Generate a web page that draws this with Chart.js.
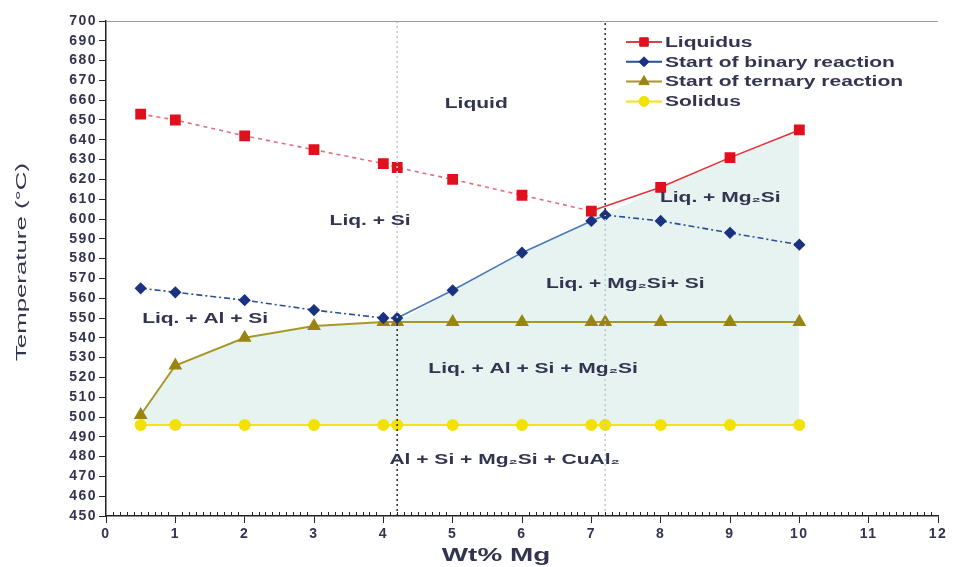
<!DOCTYPE html>
<html>
<head>
<meta charset="utf-8">
<script src="https://cdn.jsdelivr.net/npm/chart.js@4.4.1/dist/chart.umd.min.js"></script>
<style>
  html, body { margin: 0; background: #fff; }
</style>
</head>
<body>
<canvas id="phaseChart" width="955" height="567"></canvas>
<script>
/* global Chart */

// composition points (Wt% Mg)
const mgPoints = [0.5, 1, 2, 3, 4, 4.2, 5, 6, 7, 7.2, 8, 9, 10]
const liquidusX = [0.5, 1, 2, 3, 4, 4.2, 5, 6, 7, 8, 9, 10]

// temperatures (°C)
const liquidus = [653, 650, 642, 635, 628, 626, 620, 612, 604, 616, 631, 645]
const binaryStart = [565, 563, 559, 554, 550, 550, 564, 583, 599, 602, 599, 593, 587]
const ternaryStart = [501, 526, 540, 546, 548, 548, 548, 548, 548, 548, 548, 548, 548]
const solidus = [496, 496, 496, 496, 496, 496, 496, 496, 496, 496, 496, 496, 496]

// the two dotted composition lines
const boundaries = [4.2, 7.2]

const seriesNames = ['Liquidus', 'Start of binary reaction', 'Start of ternary reaction', 'Solidus']

const regionLabels = [
  { text: 'Liquid', x: 5.34, y: 658 },
  { text: 'Liq. + Si', x: 3.81, y: 599 },
  { text: 'Liq. + Mg₂Si', x: 8.86, y: 610.5 },
  { text: 'Liq. + Mg₂Si+ Si', x: 7.49, y: 567 },
  { text: 'Liq. + Al + Si', x: 1.43, y: 549.5 },
  { text: 'Liq. + Al + Si + Mg₂Si', x: 6.16, y: 524 },
  { text: 'Al + Si + Mg₂Si + CuAl₂', x: 5.75, y: 478 }
]

const toXY = (xs, ys) => xs.map((x, i) => ({ x, y: ys[i] }))

// upper edge of the shaded field: ternary, then binary, then liquidus
const shadeTop = mgPoints.map((x, i) => {
  if (x <= boundaries[0]) return { x, y: ternaryStart[i] }
  if (x <= boundaries[1]) return { x, y: binaryStart[i] }
  return { x, y: liquidus[liquidusX.indexOf(x)] }
})

const legendStyles = [
  { line: '#d8404c', marker: '#e0101c', style: 'rect', r: 6 },
  { line: '#2a4f95', marker: '#1a3280', style: 'rectRot', r: 5 },
  { line: '#a8982a', marker: '#9a8412', style: 'triangle', r: 6 },
  { line: '#f0e41a', marker: '#f2e200', style: 'circle', r: 5 }
]

const textColor = '#33344f'
const fontFamily = '"Liberation Sans", Arial, sans-serif'

function vline (x, y0, y1, color) {
  return {
    label: '',
    data: [{ x, y: y0 }, { x, y: y1 }],
    borderColor: color,
    borderWidth: 1.5,
    borderDash: [2, 3],
    pointRadius: 0,
    fill: false,
    order: 0
  }
}

// the original's lettering is stretched sideways
function wideText (ctx, text, x, y, stretch, align) {
  ctx.save()
  ctx.translate(x, y)
  ctx.scale(stretch, 1)
  ctx.textAlign = align || 'center'
  ctx.fillText(text, 0, 0)
  ctx.restore()
}

const decorPlugin = {
  id: 'decor',
  beforeDraw (chart) {
    chart.ctx.letterSpacing = '1.5px'
  },
  afterDraw (chart) {
    const { ctx, chartArea, scales } = chart
    const xs = scales.x
    const ys = scales.y
    ctx.save()
    ctx.letterSpacing = '0px'

    // top frame line
    ctx.strokeStyle = '#9a9a9a'
    ctx.lineWidth = 1
    ctx.beginPath()
    ctx.moveTo(chartArea.left, chartArea.top + 0.5)
    ctx.lineTo(chartArea.right, chartArea.top + 0.5)
    ctx.stroke()

    // minor ticks on x axis
    ctx.strokeStyle = '#222'
    ctx.beginPath()
    for (let i = 1; i < 120; i++) {
      if (i % 10 === 0) continue
      const px = Math.round(xs.getPixelForValue(i / 10)) + 0.5
      ctx.moveTo(px, chartArea.bottom)
      ctx.lineTo(px, chartArea.bottom - 4)
    }
    ctx.stroke()

    // region labels
    ctx.fillStyle = textColor
    ctx.font = `bold 14px ${fontFamily}`
    ctx.textBaseline = 'middle'
    regionLabels.forEach((lab) => {
      wideText(ctx, lab.text, xs.getPixelForValue(lab.x), ys.getPixelForValue(lab.y), 1.5)
    })

    // legend
    ctx.font = `bold 14px ${fontFamily}`
    seriesNames.forEach((name, i) => {
      const st = legendStyles[i]
      const y = 42 + i * 19.8
      ctx.strokeStyle = st.line
      ctx.lineWidth = 2
      ctx.beginPath()
      ctx.moveTo(626, y)
      ctx.lineTo(662, y)
      ctx.stroke()
      ctx.fillStyle = st.marker
      ctx.strokeStyle = st.marker
      ctx.lineWidth = 1
      Chart.helpers.drawPoint(ctx, { pointStyle: st.style, radius: st.r, borderWidth: 1 }, 644, y)
      ctx.fillStyle = textColor
      wideText(ctx, name, 665, y + 1, 1.5, 'left')
    })

    // x axis title
    ctx.font = `bold 18px ${fontFamily}`
    wideText(ctx, 'Wt% Mg', 496, 556, 1.55)

    // y axis title
    ctx.save()
    ctx.translate(22, 262)
    ctx.rotate(-Math.PI / 2)
    ctx.font = `15px ${fontFamily}`
    wideText(ctx, 'Temperature (°C)', 0, 0, 1.72)
    ctx.restore()

    ctx.restore()
  }
}

const ctxChart = document.getElementById('phaseChart').getContext('2d')

new Chart(ctxChart, {
  type: 'line',
  data: {
    datasets: [
      {
        label: '',
        data: shadeTop,
        borderWidth: 0,
        borderColor: 'rgba(0,0,0,0)',
        pointRadius: 0,
        backgroundColor: '#e6f3f1',
        fill: { target: 1 },
        order: 10
      },
      {
        label: seriesNames[3],
        data: toXY(mgPoints, solidus),
        borderColor: '#f0e41a',
        borderWidth: 2,
        pointStyle: 'circle',
        pointRadius: 5,
        pointBackgroundColor: '#f2e200',
        pointBorderColor: '#f2e200',
        fill: false,
        order: 4
      },
      {
        label: seriesNames[2],
        data: toXY(mgPoints, ternaryStart),
        borderColor: '#a8982a',
        borderWidth: 2,
        pointStyle: 'triangle',
        pointRadius: 6,
        pointBackgroundColor: '#9a8412',
        pointBorderColor: '#9a8412',
        fill: false,
        order: 3
      },
      {
        label: seriesNames[1],
        data: toXY(mgPoints, binaryStart),
        borderColor: '#2a4f95',
        borderWidth: 1.6,
        segment: {
          borderDash: (c) => (c.p0.parsed.x < boundaries[0] - 0.01 || c.p0.parsed.x >= boundaries[1] - 0.01) ? [6, 3, 2, 3] : undefined,
          borderColor: (c) => (c.p0.parsed.x < boundaries[0] - 0.01 || c.p0.parsed.x >= boundaries[1] - 0.01) ? '#2a4f95' : '#4a78bd'
        },
        pointStyle: 'rectRot',
        pointRadius: 5,
        pointBackgroundColor: '#1a3280',
        pointBorderColor: '#1a3280',
        fill: false,
        order: 2
      },
      {
        label: seriesNames[0],
        data: toXY(liquidusX, liquidus),
        borderColor: '#e8202c',
        borderWidth: 1.6,
        segment: {
          borderDash: (c) => c.p0.parsed.x < 7 ? [4, 4] : undefined,
          borderColor: (c) => c.p0.parsed.x < 7 ? '#e0707c' : '#e8303c'
        },
        pointStyle: 'rect',
        pointRadius: 6.5,
        pointBackgroundColor: '#e0101c',
        pointBorderColor: '#e0101c',
        fill: false,
        order: 1
      },
      vline(boundaries[0], 450, 550, '#2a2a2a'),
      vline(boundaries[0], 550, 700, '#b9c9d2'),
      vline(boundaries[1], 450, 602, '#b9c9d2'),
      vline(boundaries[1], 602, 700, '#2a2a2a')
    ]
  },
  options: {
    responsive: false,
    animation: false,
    devicePixelRatio: 1,
    layout: { padding: { top: 21, right: 17, left: 0, bottom: 0 } },
    plugins: {
      legend: { display: false },
      tooltip: { enabled: false }
    },
    elements: { line: { tension: 0 } },
    scales: {
      x: {
        type: 'linear',
        min: 0,
        max: 12,
        ticks: {
          stepSize: 1,
          color: textColor,
          padding: 3,
          font: { family: fontFamily, size: 14, weight: 'bold' }
        },
        grid: { drawOnChartArea: false, tickLength: 7, color: '#222' },
        border: { color: '#222', width: 1.5 },
        afterFit (scale) { scale.height = 51 }
      },
      y: {
        min: 450,
        max: 700,
        ticks: {
          stepSize: 10,
          color: textColor,
          padding: 2,
          font: { family: fontFamily, size: 14, weight: 'bold' }
        },
        grid: { drawOnChartArea: false, tickLength: 7, color: '#222' },
        border: { color: '#222', width: 1.5 },
        afterFit (scale) { scale.width = 106 }
      }
    }
  },
  plugins: [decorPlugin]
})
</script>
</body>
</html>
